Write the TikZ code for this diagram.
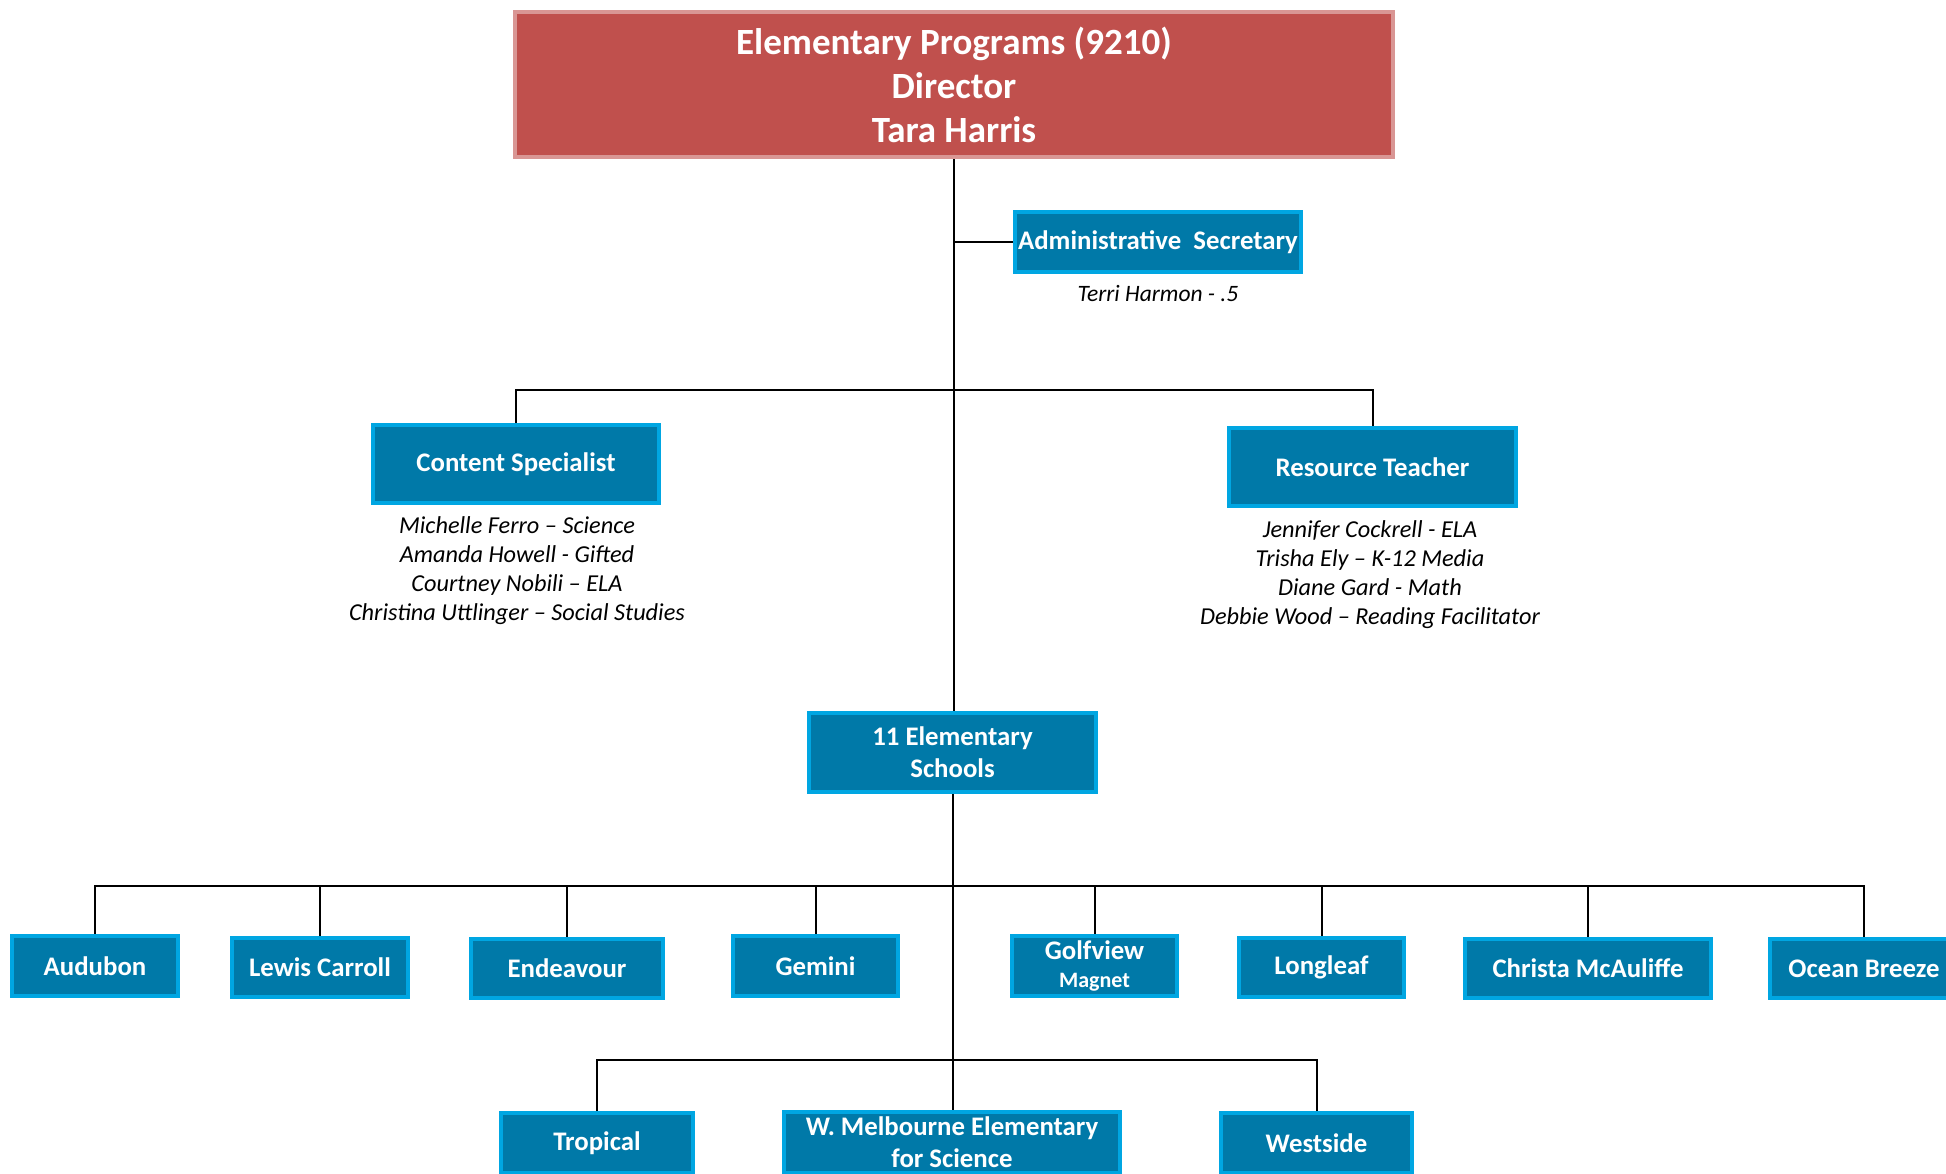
\documentclass[tikz,border=0pt]{standalone}
\usepackage{fontspec}
\setmainfont{Carlito}
\definecolor{boxfill}{RGB}{0,121,168}
\definecolor{boxborder}{RGB}{0,166,226}
\definecolor{topfill}{RGB}{192,80,77}
\definecolor{topborder}{RGB}{217,150,148}
\begin{document}
\begin{tikzpicture}[x=1pt,y=-1pt,
  bluebox/.style={draw=boxborder, fill=boxfill, line width=4.5pt, text=white,
    font=\bfseries\fontsize{26.8}{32}\selectfont, align=center, inner sep=0pt},
  topbox/.style={draw=topborder, fill=topfill, line width=4.5pt, text=white,
    font=\bfseries\fontsize{37}{44}\selectfont, align=center, inner sep=0pt},
  names/.style={font=\itshape\fontsize{24.3}{29}\selectfont, align=center, inner sep=0pt},
  conn/.style={draw=black, line width=2pt}]
\useasboundingbox (0,0) rectangle (1946,1173);

% nodes
\node[topbox, minimum width=878pt, minimum height=145pt] (top) at (954,84.5)
  {Elementary Programs (9210)\\Director\\Tara Harris};
\node[bluebox, minimum width=286pt, minimum height=60pt] (admin) at (1158,242) {Administrative\ \ Secretary};
\node[names, font=\itshape\fontsize{23.5}{29}\selectfont] (terri) at (1158,294) {Terri Harmon - .5};

\node[bluebox, minimum width=286pt, minimum height=78pt] (content) at (516,464) {Content Specialist};
\node[names] (contentlist) at (517,570.5) {Michelle Ferro – Science\\Amanda Howell - Gifted\\Courtney Nobili – ELA\\Christina Uttlinger – Social Studies};

\node[bluebox, minimum width=287pt, minimum height=78pt] (resource) at (1372.5,467) {Resource Teacher};
\node[names] (resourcelist) at (1370,574.5) {Jennifer Cockrell - ELA\\Trisha Ely – K-12 Media\\Diane Gard - Math\\Debbie Wood – Reading Facilitator};

\node[bluebox, minimum width=287pt, minimum height=79pt] (eleven) at (952.5,752.5) {11 Elementary\\Schools};

\node[bluebox, minimum width=166pt, minimum height=60pt] (audubon) at (95,966) {Audubon};
\node[bluebox, minimum width=176pt, minimum height=59pt] (lewis) at (320,967.5) {Lewis Carroll};
\node[bluebox, minimum width=192pt, minimum height=59pt] (endeavour) at (567,968.5) {Endeavour};
\node[bluebox, minimum width=165pt, minimum height=60pt] (gemini) at (815.5,966) {Gemini};
\node[bluebox, minimum width=165pt, minimum height=60pt] (golfview) at (1094.5,966)
  {Golfview\\[-4pt]{\fontsize{22}{26}\selectfont Magnet}};
\node[bluebox, minimum width=165pt, minimum height=59pt] (longleaf) at (1321.5,967.5) {Longleaf};
\node[bluebox, minimum width=246pt, minimum height=59pt] (christa) at (1588,968.5) {Christa McAuliffe};
\node[bluebox, minimum width=188pt, minimum height=59pt] (ocean) at (1864,968.5) {Ocean Breeze};

\node[bluebox, minimum width=192pt, minimum height=60pt] (tropical) at (597,1143) {Tropical};
\node[bluebox, minimum width=336pt, minimum height=61pt] (melbourne) at (952,1142.5) {W. Melbourne Elementary\\for Science};
\node[bluebox, minimum width=191pt, minimum height=60pt] (westside) at (1316.5,1143) {Westside};

% bus coordinates
\coordinate (bus1) at (953,390);
\coordinate (bus2) at (952,886);
\coordinate (bus3) at (952,1060);

% connectors
\draw[conn] (top.south) -- (top.south |- eleven.north);
\draw[conn] (top.south |- admin.west) -- (admin.west);
\draw[conn] (content.north) |- (bus1) -| (resource.north);
\draw[conn] (eleven.south) -- (eleven.south |- melbourne.north);
\draw[conn] (audubon.north) |- (bus2) -| (ocean.north);
\foreach \n in {lewis,endeavour,gemini,golfview,longleaf,christa}
  \draw[conn] (\n.north) -- (\n.north |- bus2);
\draw[conn] (tropical.north) |- (bus3) -| (westside.north);
\end{tikzpicture}
\end{document}
